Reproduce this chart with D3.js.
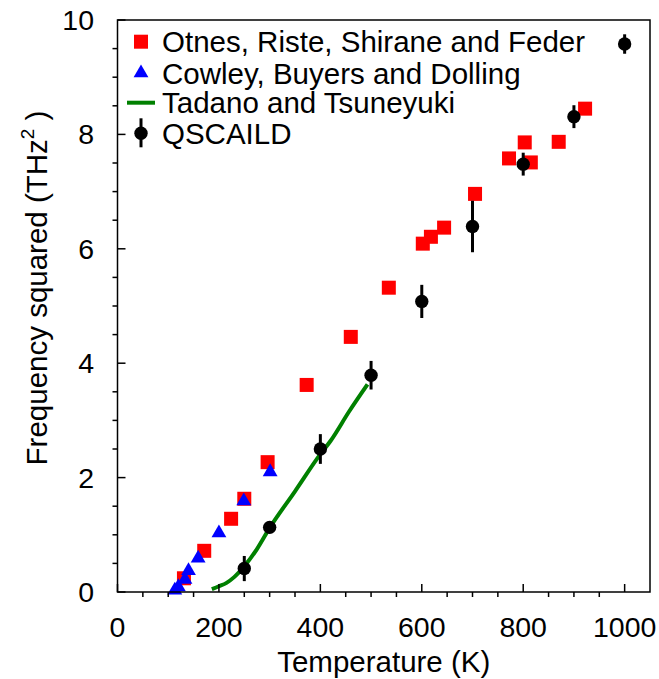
<!DOCTYPE html>
<html>
<head>
<meta charset="utf-8">
<script src="https://cdn.jsdelivr.net/npm/d3@7"></script>
<style>
  body { margin: 0; background: #fff; }
  svg text { font-family: "Liberation Sans", Arial, sans-serif; fill: #000; }
</style>
</head>
<body>
<svg id="chart" width="659" height="679"></svg>
<script>
// Otnes, Riste, Shirane and Feder (temperature K, frequency squared THz^2)
const otnesT = [131, 171, 224, 250, 296, 373, 460, 535, 602, 618, 644, 705, 772, 803, 815, 870, 922];
const otnesF = [0.24, 0.72, 1.28, 1.63, 2.27, 3.62, 4.46, 5.32, 6.09, 6.21, 6.37, 6.96, 7.58, 7.86, 7.51, 7.87, 8.45];
// Cowley, Buyers and Dolling
const cowleyT = [113, 120, 133, 140, 159, 200, 249, 301];
const cowleyF = [0.03, 0.09, 0.22, 0.37, 0.59, 1.03, 1.59, 2.10];
// Tadano and Tsuneyuki (line)
const tadanoT = [186, 200, 215, 230, 250, 275, 300, 350, 400, 420, 457, 493];
const tadanoF = [0.05, 0.10, 0.16, 0.26, 0.45, 0.75, 1.12, 1.76, 2.41, 2.64, 3.16, 3.63];
// QSCAILD with error bars
const qT = [250, 300, 400, 500, 600, 700, 800, 900, 1000];
const qF = [0.41, 1.13, 2.50, 3.79, 5.08, 6.39, 7.48, 8.31, 9.58];
const qErr = [0.22, 0.10, 0.26, 0.25, 0.29, 0.45, 0.20, 0.20, 0.17];

const xTicks = [0, 200, 400, 600, 800, 1000];
const yTicks = [0, 2, 4, 6, 8, 10];
const legendLabels = ["Otnes, Riste, Shirane and Feder", "Cowley, Buyers and Dolling", "Tadano and Tsuneyuki", "QSCAILD"];
const xTitle = "Temperature (K)";

const svg = d3.select("#chart");
const L = 117.5, R = 650, T = 20, B = 592;
const x = d3.scaleLinear().domain([0, 1050]).range([L, R]);
const y = d3.scaleLinear().domain([0, 10]).range([B, T]);

const red = "#ff0000", blue = "#0000ff", green = "#008000";

const g = svg.append("g");

// Tadano line
const line = d3.line().x((d, i) => x(tadanoT[i])).y((d, i) => y(tadanoF[i])).curve(d3.curveMonotoneX);
g.append("path").datum(tadanoT).attr("d", line)
  .attr("fill", "none").attr("stroke", green).attr("stroke-width", 4);

// Otnes squares
const sq = 14;
g.selectAll("rect.otnes").data(otnesT).join("rect")
  .attr("x", (d) => x(d) - sq / 2)
  .attr("y", (d, i) => y(otnesF[i]) - sq / 2)
  .attr("width", sq).attr("height", sq).attr("fill", red);

// Cowley triangles
const tri = d3.symbol().type(d3.symbolTriangle).size(95);
g.selectAll("path.cowley").data(cowleyT).join("path")
  .attr("d", tri)
  .attr("transform", (d, i) => `translate(${x(d)},${y(cowleyF[i])})`)
  .attr("fill", blue);

// QSCAILD error bars + circles
g.selectAll("line.err").data(qT).join("line")
  .attr("x1", (d) => x(d)).attr("x2", (d) => x(d))
  .attr("y1", (d, i) => y(qF[i] - qErr[i]))
  .attr("y2", (d, i) => y(qF[i] + qErr[i]))
  .attr("stroke", "#000").attr("stroke-width", 3);
g.selectAll("circle.q").data(qT).join("circle")
  .attr("cx", (d) => x(d)).attr("cy", (d, i) => y(qF[i]))
  .attr("r", 6.7).attr("fill", "#000");

// Frame
svg.append("rect").attr("x", L).attr("y", T).attr("width", R - L).attr("height", B - T)
  .attr("fill", "none").attr("stroke", "#000").attr("stroke-width", 1.5);

// X axis ticks: major inward, minor outward
const xMinor = d3.range(50, 1050, 50).filter(v => !xTicks.includes(v));
svg.append("g").selectAll("line").data(xTicks).join("line")
  .attr("x1", d => x(d)).attr("x2", d => x(d)).attr("y1", B).attr("y2", B - 8)
  .attr("stroke", "#000").attr("stroke-width", 1.5);
svg.append("g").selectAll("line").data(xMinor).join("line")
  .attr("x1", d => x(d)).attr("x2", d => x(d)).attr("y1", B).attr("y2", B + 5)
  .attr("stroke", "#000").attr("stroke-width", 1.5);
svg.append("g").selectAll("text").data(xTicks).join("text")
  .attr("x", d => x(d)).attr("y", 637).attr("text-anchor", "middle")
  .attr("font-size", 28.5).text(d => d);

// Y axis ticks
const yMinor = d3.range(0.5, 10, 0.5).filter(v => !yTicks.includes(v));
svg.append("g").selectAll("line").data(yTicks).join("line")
  .attr("x1", L).attr("x2", L + 8).attr("y1", d => y(d)).attr("y2", d => y(d))
  .attr("stroke", "#000").attr("stroke-width", 1.5);
svg.append("g").selectAll("line").data(yMinor).join("line")
  .attr("x1", L - 5).attr("x2", L).attr("y1", d => y(d)).attr("y2", d => y(d))
  .attr("stroke", "#000").attr("stroke-width", 1.5);
svg.append("g").selectAll("text").data(yTicks).join("text")
  .attr("x", 94).attr("y", d => y(d) + 10).attr("text-anchor", "end")
  .attr("font-size", 28.5).text(d => d);

// Axis titles
svg.append("text").attr("x", (L + R) / 2).attr("y", 672).attr("text-anchor", "middle")
  .attr("font-size", 29.5).text(xTitle);
const yt = svg.append("text").attr("transform", "translate(47,288) rotate(-90)")
  .attr("text-anchor", "middle").attr("font-size", 29.5);
yt.append("tspan").text("Frequency squared (THz");
yt.append("tspan").attr("font-size", 19).attr("dy", -13).text("2");
yt.append("tspan").attr("dy", 13).text(" )");

// Legend
const lx = 141, rows = [41.7, 73, 102.7, 133.3], tx = 162;
svg.append("rect").attr("x", lx - 7).attr("y", rows[0] - 7).attr("width", 14).attr("height", 14).attr("fill", red);
svg.append("path").attr("d", tri).attr("transform", `translate(${lx},${rows[1]})`).attr("fill", blue);
svg.append("line").attr("x1", 127).attr("x2", 155).attr("y1", rows[2]).attr("y2", rows[2])
  .attr("stroke", green).attr("stroke-width", 4);
svg.append("line").attr("x1", lx).attr("x2", lx).attr("y1", rows[3] - 15).attr("y2", rows[3] + 14)
  .attr("stroke", "#000").attr("stroke-width", 3);
svg.append("circle").attr("cx", lx).attr("cy", rows[3]).attr("r", 6.7).attr("fill", "#000");
svg.append("g").selectAll("text").data(legendLabels).join("text")
  .attr("x", tx).attr("y", (d, i) => rows[i] + 10.5).attr("font-size", 29.5).text(d => d);
</script>
</body>
</html>
